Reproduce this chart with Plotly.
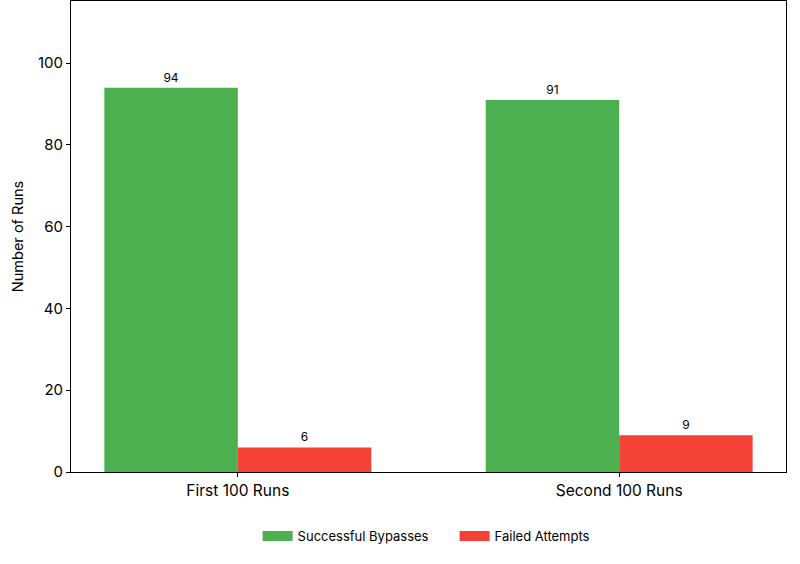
import plotly.graph_objects as go

categories = ["First 100 Runs", "Second 100 Runs"]
successful = [94, 91]
failed = [6, 9]
series_names = ["Successful Bypasses", "Failed Attempts"]
colors = ["#4CAF50", "#F44336"]

FONT = "Inter, Lato, sans-serif"

fig = go.Figure()
for name, vals, col in zip(series_names, [successful, failed], colors):
    fig.add_trace(go.Bar(
        x=categories, y=vals, name=name, marker_color=col, marker_line_width=0,
        text=[str(v) for v in vals], textposition="outside",
        textfont=dict(size=12, color="black", family=FONT),
        cliponaxis=False, showlegend=False, legendgroup=name,
    ))
# legend entries drawn as wide swatches (matplotlib-style patches)
for name, col in zip(series_names, colors):
    fig.add_trace(go.Scatter(
        x=[None], y=[None], mode="lines", name=name, legendgroup=name,
        line=dict(color=col, width=10), showlegend=True,
    ))

fig.update_layout(
    width=800, height=564,
    margin=dict(l=71, r=14, t=1, b=92),
    plot_bgcolor="white", paper_bgcolor="white",
    barmode="group", bargap=0.3, bargroupgap=0,
    font=dict(family=FONT, color="black"),
    showlegend=True,
    legend=dict(orientation="h", x=0.261, xanchor="left", y=-0.136, yanchor="middle",
                font=dict(size=13, family=FONT), traceorder="normal",
                entrywidth=152, entrywidthmode="pixels"),
)
fig.update_xaxes(
    range=[-0.4375, 1.4375], showline=True, linecolor="black", linewidth=1, mirror=True,
    ticks="outside", ticklen=4, tickcolor="black", tickfont=dict(size=15.5, family=FONT),
    showgrid=False,
)
fig.update_yaxes(
    range=[0, 115.2], showline=True, linecolor="black", linewidth=1, mirror=True,
    ticks="outside", ticklen=4, tickcolor="black", tickfont=dict(size=15, family=FONT),
    tickvals=[0, 20, 40, 60, 80, 100], showgrid=False, zeroline=False,
    title=dict(text="Number of Runs", font=dict(size=14.5, family=FONT), standoff=10),
)

fig.write_html("out.html")
